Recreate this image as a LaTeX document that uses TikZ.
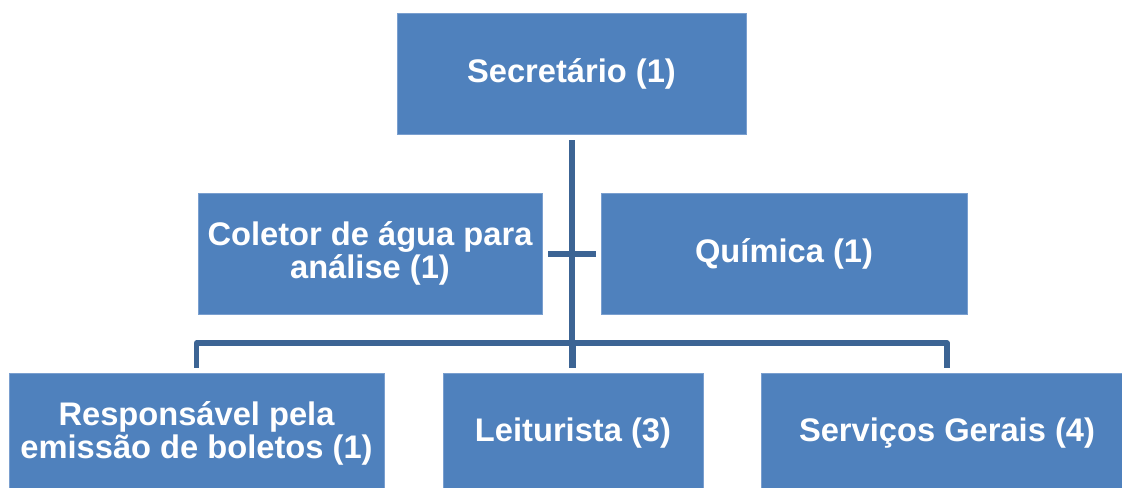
\documentclass[tikz,border=0pt]{standalone}
\usepackage{fontspec}
\setmainfont{Liberation Sans}
\definecolor{boxfill}{HTML}{4F81BD}
\definecolor{boxedge}{HTML}{7A9FCF}
\definecolor{linkcol}{HTML}{3C6494}
\begin{document}
\begin{tikzpicture}[x=0.75pt,y=-0.75pt,
  orgbox/.style={draw=boxedge,line width=0.6pt,fill=boxfill,text=white,
    font=\fontsize{24.5}{25}\selectfont\bfseries,align=center,inner sep=0pt,
    minimum height=90.75pt},
  link/.style={draw=linkcol,line width=3.8pt}]
\useasboundingbox (0,0) rectangle (1122,488);
\clip (0,0) rectangle (1122,488);
\node[orgbox,minimum width=261.75pt] (sec) at (571.5,73.5) {Secretário (1)};
\node[orgbox,minimum width=258pt] (col) at (370,253.5) {Coletor de água para\\análise (1)};
\node[orgbox,minimum width=274.5pt] (qui) at (784,253.5) {Química (1)};
\node[orgbox,minimum width=281.25pt] (res) at (196.5,433.5) {Responsável pela\\emissão de boletos (1)};
\node[orgbox,minimum width=195pt] (lei) at (573,433.5) {Leiturista (3)};
\node[orgbox,minimum width=279pt] (ser) at (947,433.5) {Serviços Gerais (4)};
% connectors
\coordinate (bus) at (572,343);
\draw[link] ([yshift=-4.5pt]sec.south -| bus) -- ([yshift=3.75pt]lei.north -| bus);
\draw[link] ([xshift=4.5pt]col.east |- 0,254) -- ([xshift=-3.75pt]qui.west |- 0,254);
\draw[link,line join=round] ([yshift=3.75pt]res.north) -- (res.north |- bus) -- (ser.north |- bus) -- ([yshift=3.75pt]ser.north);
\draw[link] (lei.north |- bus) -- ([yshift=3.75pt]lei.north);
\end{tikzpicture}
\end{document}
